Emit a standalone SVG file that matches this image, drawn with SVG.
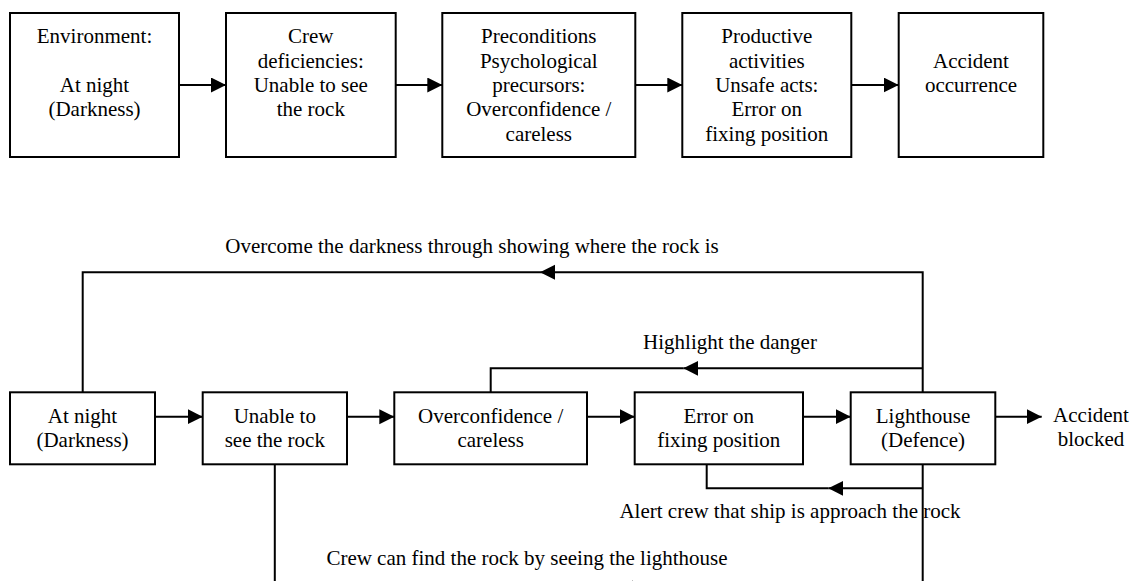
<svg xmlns="http://www.w3.org/2000/svg" width="1138" height="581" viewBox="0 0 1138 581">
  <style>
    .box { fill: #fff; stroke: #000; stroke-width: 2; }
    .lbl { font-family: "Liberation Serif", "Times New Roman", serif; font-size: 21px; fill: #000; text-anchor: middle; }
    .wire { fill: none; stroke: #000; stroke-width: 2; }
    .arr { marker-end: url(#head); }
  </style>
  <defs>
    <marker id="head" markerUnits="userSpaceOnUse" markerWidth="16" markerHeight="16" refX="15" refY="7.5" orient="auto">
      <path d="M0,0 L15,7.5 L0,15 z" fill="#000"/>
    </marker>
  </defs>
  <rect width="1138" height="581" fill="#fff"/>

  <!-- Upper chain: accident causation -->
  <g id="env">
    <rect class="box" x="10" y="13" width="169" height="144"/>
    <text class="lbl"><tspan x="94.5" y="43.3">Environment:</tspan><tspan x="94.5" y="91.9">At night</tspan><tspan x="94.5" y="116.2">(Darkness)</tspan></text>
  </g>
  <g id="crew">
    <rect class="box" x="226" y="13" width="169.7" height="144"/>
    <text class="lbl"><tspan x="310.8" y="43.3">Crew</tspan><tspan x="310.8" y="67.6">deficiencies:</tspan><tspan x="310.8" y="91.9">Unable to see</tspan><tspan x="310.8" y="116.2">the rock</tspan></text>
  </g>
  <g id="precond">
    <rect class="box" x="442.3" y="13" width="193" height="144"/>
    <text class="lbl"><tspan x="538.8" y="43.3">Preconditions</tspan><tspan x="538.8" y="67.6">Psychological</tspan><tspan x="538.8" y="91.9">precursors:</tspan><tspan x="538.8" y="116.2">Overconfidence /</tspan><tspan x="538.8" y="140.5">careless</tspan></text>
  </g>
  <g id="productive">
    <rect class="box" x="682.3" y="13" width="169" height="144"/>
    <text class="lbl"><tspan x="766.8" y="43.3">Productive</tspan><tspan x="766.8" y="67.6">activities</tspan><tspan x="766.8" y="91.9">Unsafe acts:</tspan><tspan x="766.8" y="116.2">Error on</tspan><tspan x="766.8" y="140.5">fixing position</tspan></text>
  </g>
  <g id="accident">
    <rect class="box" x="898.7" y="13" width="144.6" height="144"/>
    <text class="lbl"><tspan x="971" y="67.6">Accident</tspan><tspan x="971" y="91.9">occurrence</tspan></text>
  </g>

  <!-- Lower chain: defence -->
  <g id="night">
    <rect class="box" x="10" y="392.3" width="145" height="72"/>
    <text class="lbl"><tspan x="82.5" y="422.5">At night</tspan><tspan x="82.5" y="446.8">(Darkness)</tspan></text>
  </g>
  <g id="unable">
    <rect class="box" x="202.7" y="392.3" width="144.3" height="72"/>
    <text class="lbl"><tspan x="274.8" y="422.5">Unable to</tspan><tspan x="274.8" y="446.8">see the rock</tspan></text>
  </g>
  <g id="overconf">
    <rect class="box" x="394.3" y="392.3" width="192.7" height="72"/>
    <text class="lbl"><tspan x="490.7" y="422.5">Overconfidence /</tspan><tspan x="490.7" y="446.8">careless</tspan></text>
  </g>
  <g id="error">
    <rect class="box" x="634.7" y="392.3" width="168.3" height="72"/>
    <text class="lbl"><tspan x="718.8" y="422.5">Error on</tspan><tspan x="718.8" y="446.8">fixing position</tspan></text>
  </g>
  <g id="lighthouse">
    <rect class="box" x="850.7" y="392.3" width="144.6" height="72"/>
    <text class="lbl"><tspan x="923" y="422.5">Lighthouse</tspan><tspan x="923" y="446.8">(Defence)</tspan></text>
  </g>
  <g id="blocked">
    <text class="lbl"><tspan x="1091" y="422">Accident</tspan><tspan x="1091" y="446.3">blocked</tspan></text>
  </g>

  <!-- Connectors -->
  <g id="connectors">
    <path class="wire arr" d="M179,85 H226"/>
    <path class="wire arr" d="M395.7,85 H442.3"/>
    <path class="wire arr" d="M635.3,85 H682.3"/>
    <path class="wire arr" d="M851.3,85 H898.7"/>

    <path class="wire arr" d="M155,416.7 H202.7"/>
    <path class="wire arr" d="M347,416.7 H394.3"/>
    <path class="wire arr" d="M587,416.7 H634.7"/>
    <path class="wire arr" d="M803,416.7 H850.7"/>
    <path class="wire arr" d="M995.3,416.7 H1041.7"/>

    <!-- lighthouse feedback: overcome the darkness -->
    <path class="wire arr" d="M922.7,392.3 V272.3 H540"/>
    <path class="wire" d="M540,272.3 H82.7 V392.3"/>
    <!-- highlight the danger -->
    <path class="wire arr" d="M922.7,368.3 H683.3"/>
    <path class="wire" d="M683.3,368.3 H490.7 V392.3"/>
    <!-- alert crew -->
    <path class="wire arr" d="M922.7,488.3 H828.3"/>
    <path class="wire" d="M828.3,488.3 H706.7 V464.3"/>
    <!-- crew can find the rock -->
    <path class="wire arr" d="M922.7,464.3 V588 H618"/>
    <path class="wire" d="M618,588 H274.8 V464.3"/>

    <text class="lbl" x="472" y="253">Overcome the darkness through showing where the rock is</text>
    <text class="lbl" x="730" y="349.3">Highlight the danger</text>
    <text class="lbl" x="790" y="517.5">Alert crew that ship is approach the rock</text>
    <text class="lbl" x="527" y="565">Crew can find the rock by seeing the lighthouse</text>
  </g>
</svg>
